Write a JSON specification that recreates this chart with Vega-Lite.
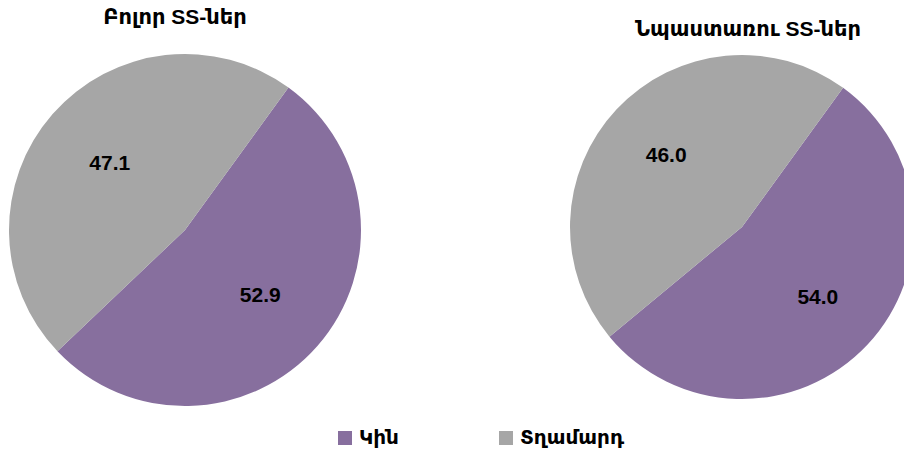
{
  "$schema": "https://vega.github.io/schema/vega-lite/v6.json",
  "width": 904,
  "height": 451,
  "autosize": {"type": "none"},
  "padding": 0,
  "background": "white",
  "config": {"view": {"stroke": null}, "font": "Liberation Sans, DejaVu Sans, sans-serif"},
  "datasets": {
    "pies": [
      {"group": "Բոլոր SS-ներ", "sex": "Կին", "value": 52.9},
      {"group": "Բոլոր SS-ներ", "sex": "Տղամարդ", "value": 47.1},
      {"group": "Նպաստառու SS-ներ", "sex": "Կին", "value": 54.0},
      {"group": "Նպաստառու SS-ներ", "sex": "Տղամարդ", "value": 46.0}
    ],
    "titles": [
      {"group": "Բոլոր SS-ներ"},
      {"group": "Նպաստառու SS-ներ"}
    ]
  },
  "resolve": {"scale": {"x": "independent", "y": "independent"}},
  "layer": [
    {
      "data": {"name": "pies"},
      "layer": [
        {
          "transform": [{"filter": "datum.group === 'Բոլոր SS-ներ'"}],
          "mark": {"type": "arc", "radius": 176},
          "encoding": {
            "theta": {"field": "value", "type": "quantitative", "stack": true, "scale": {"domain": [0, 100], "range": [0.6283, 6.9115]}},
            "order": {"field": "sex", "sort": "ascending"},
            "color": {"field": "sex", "type": "nominal", "scale": {"domain": ["Կին", "Տղամարդ"], "range": ["#876f9e", "#a6a6a6"]},
              "legend": {"title": null, "orient": "none", "legendX": 335, "legendY": 428, "direction": "horizontal", "symbolType": "square", "symbolSize": 196, "symbolStrokeWidth": 0, "labelFontSize": 20, "labelFontWeight": "bold", "labelColor": "black", "labelOffset": 4, "columnPadding": 97, "labelFont": "Liberation Sans, DejaVu Sans, sans-serif"}},
            "x": {"field": "group", "type": "nominal", "scale": {"domain": ["Բոլոր SS-ներ", "Նպաստառու SS-ներ"], "range": [185, 742], "padding": 0}, "axis": null},
            "y": {"field": "group", "type": "nominal", "scale": {"domain": ["Բոլոր SS-ներ", "Նպաստառու SS-ներ"], "range": [230, 227], "padding": 0}, "axis": null}
          }
        },
        {
          "transform": [{"filter": "datum.group === 'Բոլոր SS-ներ'"}],
          "mark": {"type": "text", "radius": 100, "fontSize": 21, "fontWeight": "bold", "color": "black"},
          "encoding": {
            "theta": {"field": "value", "type": "quantitative", "stack": true, "scale": {"domain": [0, 100], "range": [0.6283, 6.9115]}},
            "order": {"field": "sex", "sort": "ascending"},
            "text": {"field": "value", "type": "quantitative", "format": ".1f"},
            "x": {"field": "group", "type": "nominal", "scale": {"domain": ["Բոլոր SS-ներ", "Նպաստառու SS-ներ"], "range": [185, 742], "padding": 0}, "axis": null},
            "y": {"field": "group", "type": "nominal", "scale": {"domain": ["Բոլոր SS-ներ", "Նպաստառու SS-ներ"], "range": [230, 227], "padding": 0}, "axis": null}
          }
        },
        {
          "transform": [{"filter": "datum.group === 'Նպաստառու SS-ներ'"}],
          "mark": {"type": "arc", "radius": 172},
          "encoding": {
            "theta": {"field": "value", "type": "quantitative", "stack": true, "scale": {"domain": [0, 100], "range": [0.6283, 6.9115]}},
            "order": {"field": "sex", "sort": "ascending"},
            "color": {"field": "sex", "type": "nominal"},
            "x": {"field": "group", "type": "nominal", "scale": {"domain": ["Բոլոր SS-ներ", "Նպաստառու SS-ներ"], "range": [185, 742], "padding": 0}, "axis": null},
            "y": {"field": "group", "type": "nominal", "scale": {"domain": ["Բոլոր SS-ներ", "Նպաստառու SS-ներ"], "range": [230, 227], "padding": 0}, "axis": null}
          }
        },
        {
          "transform": [{"filter": "datum.group === 'Նպաստառու SS-ներ'"}],
          "mark": {"type": "text", "radius": 104, "fontSize": 21, "fontWeight": "bold", "color": "black"},
          "encoding": {
            "theta": {"field": "value", "type": "quantitative", "stack": true, "scale": {"domain": [0, 100], "range": [0.6283, 6.9115]}},
            "order": {"field": "sex", "sort": "ascending"},
            "text": {"field": "value", "type": "quantitative", "format": ".1f"},
            "x": {"field": "group", "type": "nominal", "scale": {"domain": ["Բոլոր SS-ներ", "Նպաստառու SS-ներ"], "range": [185, 742], "padding": 0}, "axis": null},
            "y": {"field": "group", "type": "nominal", "scale": {"domain": ["Բոլոր SS-ներ", "Նպաստառու SS-ներ"], "range": [230, 227], "padding": 0}, "axis": null}
          }
        }
      ]
    },
    {
      "data": {"name": "titles"},
      "mark": {"type": "text", "fontSize": 21, "fontWeight": "bold", "color": "black", "baseline": "middle"},
      "encoding": {
        "text": {"field": "group", "type": "nominal"},
        "x": {"field": "group", "type": "nominal", "scale": {"domain": ["Բոլոր SS-ներ", "Նպաստառու SS-ներ"], "range": [175, 748], "padding": 0}, "axis": null},
        "y": {"field": "group", "type": "nominal", "scale": {"domain": ["Բոլոր SS-ներ", "Նպաստառու SS-ներ"], "range": [18, 30], "padding": 0}, "axis": null}
      }
    }
  ]
}
